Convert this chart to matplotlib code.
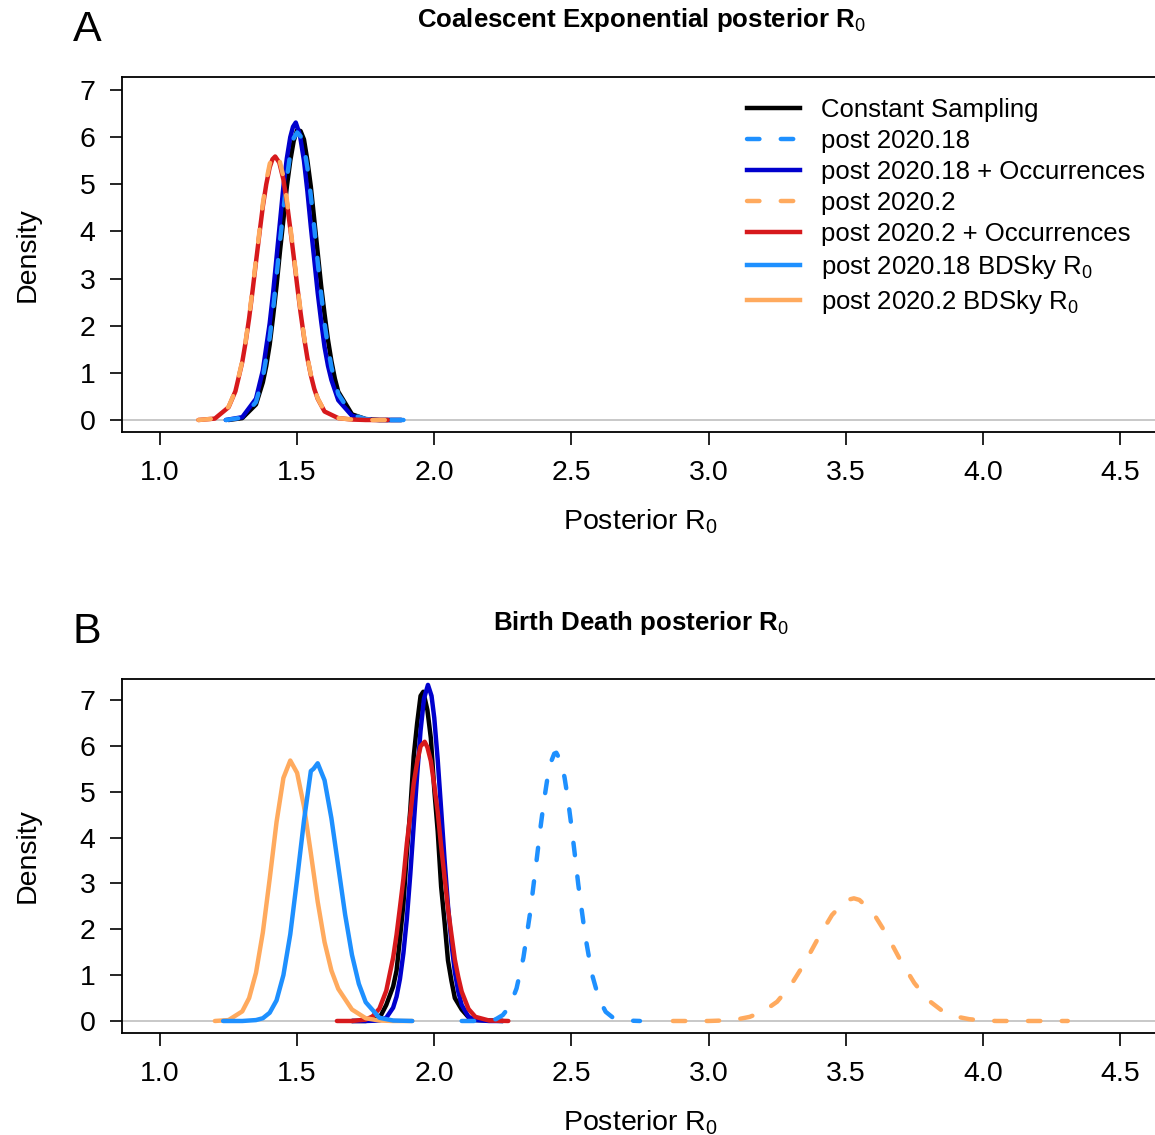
import matplotlib
matplotlib.use("Agg")
import matplotlib.pyplot as plt
from matplotlib.lines import Line2D

plt.rcParams['font.family'] = ['Liberation Sans', 'DejaVu Sans']
plt.rcParams['mathtext.fontset'] = 'custom'
plt.rcParams['mathtext.rm'] = 'Liberation Sans'
plt.rcParams['mathtext.it'] = 'Liberation Sans:italic'
plt.rcParams['mathtext.bf'] = 'Liberation Sans:bold'

# ---- panel A : coalescent exponential ----
a_const_x = [1.25, 1.30, 1.35, 1.375, 1.3875, 1.40, 1.4125, 1.425, 1.4375, 1.45, 1.4625, 1.475, 1.4875, 1.50,
             1.5125, 1.525, 1.5375, 1.55, 1.5625, 1.575, 1.5875, 1.60, 1.6125, 1.625, 1.6375, 1.65, 1.70, 1.75, 1.80, 1.88]
a_const_y = [0.00, 0.04, 0.33, 0.80, 1.15, 1.60, 2.20, 2.85, 3.58, 4.25, 4.95, 5.50, 5.92, 6.15,
             6.13, 5.95, 5.50, 4.95, 4.25, 3.55, 2.85, 2.25, 1.70, 1.25, 0.88, 0.60, 0.12, 0.02, 0.00, 0.00]

a_p18_x = [1.24, 1.30, 1.35, 1.375, 1.40, 1.4125, 1.425, 1.4375, 1.45, 1.4625, 1.475, 1.4875, 1.50, 1.5125,
           1.525, 1.5375, 1.55, 1.5625, 1.575, 1.5875, 1.60, 1.6125, 1.625, 1.65, 1.70, 1.75, 1.80, 1.92]
a_p18_y = [0.00, 0.05, 0.38, 0.90, 1.75, 2.35, 3.05, 3.80, 4.45, 5.12, 5.65, 5.98, 6.10, 6.02,
           5.80, 5.35, 4.75, 4.08, 3.35, 2.68, 2.05, 1.55, 1.12, 0.55, 0.11, 0.02, 0.00, 0.00]

a_p18occ_x = [1.24, 1.30, 1.35, 1.375, 1.40, 1.4125, 1.425, 1.4375, 1.45, 1.4625, 1.475, 1.485, 1.495, 1.51,
              1.525, 1.5375, 1.55, 1.5625, 1.575, 1.5875, 1.60, 1.6125, 1.625, 1.65, 1.70, 1.75, 1.80, 1.88]
a_p18occ_y = [0.00, 0.06, 0.45, 1.05, 2.05, 2.70, 3.45, 4.20, 4.95, 5.55, 6.00, 6.22, 6.31, 6.05,
              5.50, 4.85, 4.10, 3.40, 2.70, 2.10, 1.55, 1.15, 0.85, 0.42, 0.09, 0.01, 0.00, 0.00]

a_p2occ_x = [1.14, 1.20, 1.25, 1.275, 1.30, 1.3125, 1.325, 1.3375, 1.35, 1.3625, 1.375, 1.3875, 1.40, 1.41, 1.42,
             1.435, 1.45, 1.4625, 1.475, 1.4875, 1.50, 1.5125, 1.525, 1.5375, 1.55, 1.5625, 1.575, 1.60, 1.65, 1.70, 1.75, 1.83]
a_p2occ_y = [0.00, 0.03, 0.27, 0.61, 1.23, 1.66, 2.16, 2.74, 3.35, 3.95, 4.53, 5.00, 5.36, 5.53, 5.59,
             5.46, 5.10, 4.62, 4.06, 3.47, 2.86, 2.28, 1.76, 1.31, 0.95, 0.66, 0.45, 0.18, 0.04, 0.01, 0.00, 0.00]

a_p2_x = [1.14, 1.20, 1.25, 1.275, 1.30, 1.3125, 1.325, 1.3375, 1.35, 1.3625, 1.375, 1.3875, 1.40, 1.41, 1.42,
          1.435, 1.45, 1.4625, 1.475, 1.4875, 1.50, 1.5125, 1.525, 1.5375, 1.55, 1.5625, 1.575, 1.60, 1.65, 1.70, 1.75, 1.83]
a_p2_y = [0.00, 0.03, 0.28, 0.62, 1.25, 1.68, 2.19, 2.78, 3.40, 4.00, 4.59, 5.07, 5.43, 5.60, 5.66,
          5.53, 5.16, 4.68, 4.11, 3.51, 2.90, 2.31, 1.78, 1.33, 0.96, 0.67, 0.46, 0.18, 0.04, 0.01, 0.00, 0.00]

# ---- panel B : birth death ----
b_const_x = [1.70, 1.75, 1.80, 1.825, 1.85, 1.8625, 1.875, 1.8875, 1.90, 1.9125, 1.925, 1.9375, 1.95, 1.96, 1.975,
             1.9875, 2.00, 2.0125, 2.025, 2.0375, 2.05, 2.0625, 2.075, 2.10, 2.125, 2.15, 2.25]
b_const_y = [0.00, 0.00, 0.06, 0.35, 0.75, 1.10, 1.81, 2.55, 3.67, 4.60, 5.77, 6.49, 7.09, 7.18, 6.78,
             6.17, 5.05, 4.14, 2.93, 2.16, 1.32, 0.88, 0.50, 0.25, 0.08, 0.02, 0.00]

b_p18_x = [2.10, 2.15, 2.20, 2.225, 2.25, 2.275, 2.30, 2.325, 2.35, 2.3625, 2.375, 2.3875, 2.40, 2.4125, 2.425,
           2.4375, 2.445, 2.4625, 2.475, 2.4875, 2.50, 2.5125, 2.525, 2.55, 2.575, 2.60, 2.625, 2.65, 2.70, 2.75]
b_p18_y = [0.00, 0.00, 0.01, 0.04, 0.13, 0.32, 0.71, 1.38, 2.38, 2.99, 3.60, 4.23, 4.80, 5.29, 5.64,
           5.83, 5.85, 5.65, 5.31, 4.83, 4.25, 3.63, 2.98, 1.87, 1.02, 0.49, 0.20, 0.08, 0.01, 0.00]

b_p18occ_x = [1.70, 1.75, 1.80, 1.825, 1.85, 1.8625, 1.875, 1.8875, 1.90, 1.9125, 1.925, 1.9375, 1.95, 1.9625, 1.977,
              1.99, 2.00, 2.0125, 2.025, 2.0375, 2.05, 2.0625, 2.075, 2.0875, 2.10, 2.125, 2.15, 2.20, 2.25]
b_p18occ_y = [0.00, 0.00, 0.01, 0.07, 0.29, 0.53, 0.92, 1.48, 2.23, 3.19, 4.27, 5.36, 6.33, 7.03, 7.33,
              7.09, 6.61, 5.70, 4.62, 3.52, 2.52, 1.70, 1.07, 0.64, 0.35, 0.09, 0.02, 0.00, 0.00]

b_p2_x = [2.87, 2.95, 3.00, 3.05, 3.10, 3.15, 3.20, 3.25, 3.30, 3.35, 3.40, 3.45, 3.50, 3.53, 3.55, 3.60, 3.65,
          3.70, 3.75, 3.80, 3.85, 3.90, 3.95, 4.00, 4.05, 4.10, 4.20, 4.31]
b_p2_y = [0.00, 0.00, 0.00, 0.01, 0.03, 0.09, 0.21, 0.42, 0.78, 1.26, 1.81, 2.31, 2.63, 2.675, 2.64, 2.36, 1.88,
          1.32, 0.83, 0.46, 0.23, 0.10, 0.04, 0.01, 0.00, 0.00, 0.00, 0.00]

b_p2occ_x = [1.645, 1.70, 1.75, 1.775, 1.80, 1.825, 1.85, 1.8625, 1.875, 1.8875, 1.90, 1.9125, 1.925, 1.9375, 1.95,
             1.965, 1.975, 1.9875, 2.00, 2.0125, 2.025, 2.0375, 2.05, 2.0625, 2.075, 2.0875, 2.10, 2.125, 2.15, 2.20, 2.27]
b_p2occ_y = [0.00, 0.00, 0.03, 0.10, 0.27, 0.66, 1.38, 1.88, 2.48, 3.10, 3.87, 4.49, 5.18, 5.64, 5.99,
             6.09, 5.97, 5.67, 5.14, 4.56, 3.81, 3.14, 2.45, 1.89, 1.34, 0.96, 0.64, 0.26, 0.09, 0.01, 0.00]

b_bd18_x = [1.23, 1.30, 1.35, 1.375, 1.40, 1.425, 1.45, 1.475, 1.50, 1.525, 1.55, 1.56, 1.575, 1.60, 1.625,
            1.65, 1.675, 1.70, 1.725, 1.75, 1.80, 1.85, 1.92]
b_bd18_y = [0.00, 0.00, 0.02, 0.06, 0.18, 0.45, 1.00, 1.89, 3.10, 4.37, 5.45, 5.50, 5.62, 5.25, 4.42,
            3.37, 2.32, 1.44, 0.81, 0.41, 0.07, 0.01, 0.00]

b_bd2_x = [1.20, 1.25, 1.30, 1.325, 1.35, 1.375, 1.40, 1.425, 1.45, 1.475, 1.50, 1.525, 1.55, 1.575, 1.60,
           1.625, 1.65, 1.70, 1.75, 1.80, 1.85, 1.92]
b_bd2_y = [0.00, 0.02, 0.21, 0.50, 1.05, 1.93, 3.10, 4.34, 5.30, 5.68, 5.41, 4.68, 3.66, 2.60, 1.72,
           1.10, 0.70, 0.25, 0.06, 0.01, 0.00, 0.00]

labels = ["Constant Sampling", "post 2020.18", "post 2020.18 + Occurrences",
          "post 2020.2", "post 2020.2 + Occurrences",
          "post 2020.18 BDSky R$_0$", "post 2020.2 BDSky R$_0$"]

c_black = "black"
c_lblue = "#1E90FF"
c_dblue = "#0000CD"
c_orange = "#FFAA5E"
c_red = "#D7191C"

lw = 3.2
dash = (0, (2.8, 4.8))

W, H = 1155, 1135
fig = plt.figure(figsize=(W / 100, H / 100), dpi=100)

def px_axes(left, top, right, bottom):
    return fig.add_axes([left / W, 1 - bottom / H, (right - left) / W, (bottom - top) / H])

axA = px_axes(122, 77, 1160, 432)
axB = px_axes(122, 679, 1160, 1033)

def style(ax, ylim):
    ax.set_xlim(0.8615, 4.646)
    ax.set_ylim(*ylim)
    ax.set_xticks([1.0, 1.5, 2.0, 2.5, 3.0, 3.5, 4.0, 4.5])
    ax.set_xticklabels(["1.0", "1.5", "2.0", "2.5", "3.0", "3.5", "4.0", "4.5"])
    ax.set_yticks(range(8))
    ax.tick_params(direction="out", length=9, width=1.2, labelsize=20.5, pad=11.5)
    ax.tick_params(axis="y", pad=10)
    for s in ax.spines.values():
        s.set_linewidth(1.3)
    ax.axhline(0, color="#C8C8C8", lw=1.4, zorder=0)
    ax.set_ylabel("Density", fontsize=20.5, labelpad=28)
    ax.set_xlabel("Posterior R$_0$", fontsize=20.5, labelpad=15)

style(axA, (-0.2546, 7.276))
style(axB, (-0.262, 7.458))

kw_solid = dict(lw=lw, solid_capstyle="round", solid_joinstyle="round")
kw_dash = dict(lw=lw, linestyle=dash, dash_capstyle="round", dash_joinstyle="round")

# panel A curves
axA.plot(a_const_x, a_const_y, color=c_black, **kw_solid)
axA.plot(a_p18occ_x, a_p18occ_y, color=c_dblue, **kw_solid)
axA.plot(a_p18_x, a_p18_y, color=c_lblue, **kw_dash)
axA.plot(a_p2occ_x, a_p2occ_y, color=c_red, **kw_solid)
axA.plot(a_p2_x, a_p2_y, color=c_orange, **kw_dash)

# panel B curves
axB.plot(b_const_x, b_const_y, color=c_black, **kw_solid)
axB.plot(b_p18occ_x, b_p18occ_y, color=c_dblue, **kw_solid)
axB.plot(b_p2occ_x, b_p2occ_y, color=c_red, **kw_solid)
axB.plot(b_p18_x, b_p18_y, color=c_lblue, **kw_dash)
axB.plot(b_p2_x, b_p2_y, color=c_orange, **kw_dash)
axB.plot(b_bd2_x, b_bd2_y, color=c_orange, **kw_solid)
axB.plot(b_bd18_x, b_bd18_y, color=c_lblue, **kw_solid)

# legend (panel A only)
handles = [
    Line2D([], [], color=c_black, lw=lw),
    Line2D([], [], color=c_lblue, **kw_dash),
    Line2D([], [], color=c_dblue, lw=lw),
    Line2D([], [], color=c_orange, **kw_dash),
    Line2D([], [], color=c_red, lw=lw),
    Line2D([], [], color=c_lblue, lw=lw),
    Line2D([], [], color=c_orange, lw=lw),
]
axA.legend(handles, labels, loc="upper left", bbox_to_anchor=(747 / W, 1 - 98 / H),
           bbox_transform=fig.transFigure, frameon=False, fontsize=18.5,
           borderpad=0, borderaxespad=0, handlelength=2.08, handletextpad=0.8,
           labelspacing=0.272)

fig.text(641 / W, 1 - 20 / H, "Coalescent Exponential posterior R$_0$", ha="center", va="center",
         fontsize=18.6, fontweight="bold")
fig.text(641 / W, 1 - 623 / H, "Birth Death posterior R$_0$", ha="center", va="center",
         fontsize=18.6, fontweight="bold")
fig.text(87 / W, 1 - 30 / H, "A", ha="center", va="center", fontsize=31)
fig.text(87 / W, 1 - 632 / H, "B", ha="center", va="center", fontsize=31)

fig.savefig("out.png", dpi=100)
